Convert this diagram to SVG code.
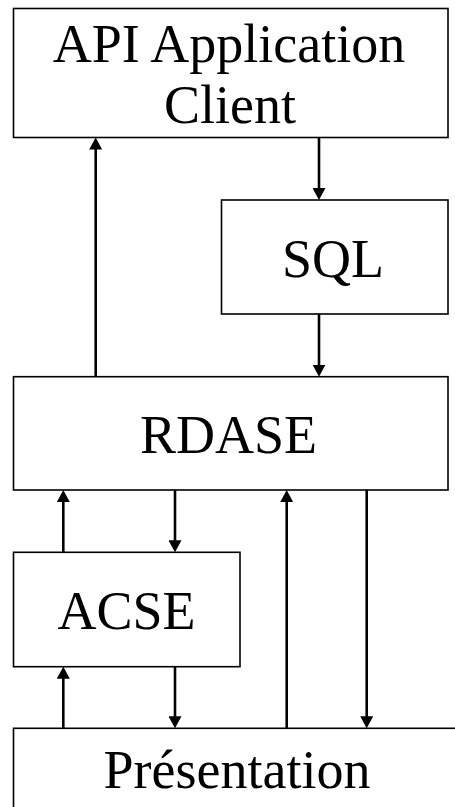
<svg xmlns="http://www.w3.org/2000/svg" width="455" height="807" viewBox="0 0 455 807">
<style>
.box{fill:#fff;stroke:#000;stroke-width:1.6}
.lbl{font-family:"Liberation Serif","Times New Roman",serif;font-size:54px;fill:#000;text-anchor:middle}
.arr{stroke:#000;stroke-width:2.6;fill:none;marker-end:url(#ah)}
</style>
<defs>
<marker id="ah" markerUnits="userSpaceOnUse" markerWidth="12" markerHeight="13" refX="4" refY="6.5" orient="auto" viewBox="0 0 12 13">
<path d="M0,0 L12,6.5 L0,13 z" fill="#000"/>
</marker>
</defs>
<rect width="455" height="807" fill="#fff"/>
<g id="api">
<rect class="box" x="13.5" y="8.5" width="434.5" height="129"/>
<text class="lbl" x="229" y="61.7">API Application</text>
<text class="lbl" x="230" y="123.3">Client</text>
</g>
<g id="sql">
<rect class="box" x="221.5" y="200" width="226.5" height="114"/>
<text class="lbl" x="333" y="276.7">SQL</text>
</g>
<g id="rdase">
<rect class="box" x="13.5" y="376.7" width="434.5" height="113.3"/>
<text class="lbl" x="228.5" y="453.3">RDASE</text>
</g>
<g id="acse">
<rect class="box" x="13.5" y="552.3" width="226.5" height="114.4"/>
<text class="lbl" x="126.5" y="629.3">ACSE</text>
</g>
<g id="presentation">
<rect class="box" x="13.5" y="728.3" width="460" height="100"/>
<text class="lbl" x="237" y="788.3">Présentation</text>
</g>
<g id="connectors">
<line class="arr" x1="95.7" y1="376.7" x2="95.7" y2="145.5"/>
<line class="arr" x1="319" y1="137.5" x2="319" y2="192"/>
<line class="arr" x1="319" y1="314" x2="319" y2="368.7"/>
<line class="arr" x1="63.3" y1="552.3" x2="63.3" y2="498"/>
<line class="arr" x1="175" y1="490" x2="175" y2="544.3"/>
<line class="arr" x1="286.7" y1="728.3" x2="286.7" y2="498"/>
<line class="arr" x1="366.7" y1="490" x2="366.7" y2="720.3"/>
<line class="arr" x1="63.3" y1="728.3" x2="63.3" y2="674.7"/>
<line class="arr" x1="175" y1="666.7" x2="175" y2="720.3"/>
</g>
</svg>
